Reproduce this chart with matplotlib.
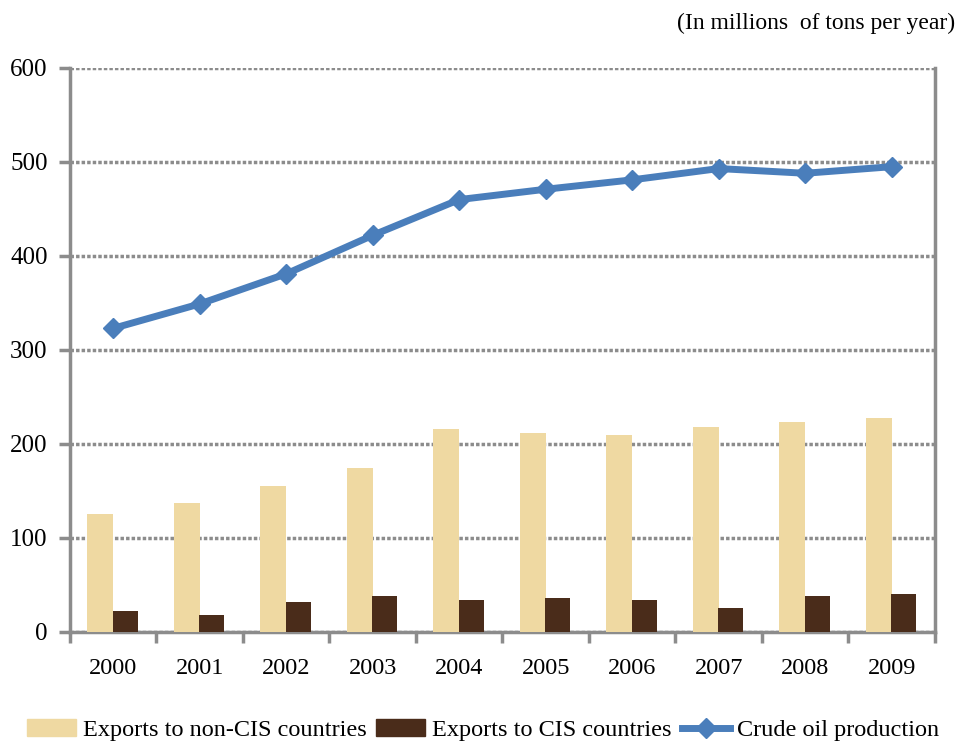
import matplotlib
matplotlib.use('Agg')
import matplotlib.pyplot as plt
from matplotlib.lines import Line2D
import matplotlib.patches as mpatches
import numpy as np

plt.rcParams['font.family'] = ['Liberation Serif', 'DejaVu Serif']

# data
years = ['2000', '2001', '2002', '2003', '2004', '2005', '2006', '2007', '2008', '2009']
non_cis = [125, 137, 155, 174, 216, 212, 210, 218, 223, 228]
cis = [22, 18, 32, 38, 34, 36, 34, 25, 38, 40]
production = [323, 349, 381, 422, 460, 471, 481, 493, 488, 495]

light = '#EFD9A2'
dark = '#4A2C1A'
blue = '#4A7EBB'
grey = '#8C8C8C'

fig = plt.figure(figsize=(9.57, 7.43), dpi=100)
ax = fig.add_axes([0.0731, 0.1494, 0.9039, 0.7591])

x = np.arange(len(years))
ax.bar(x - 0.15, non_cis, width=0.3, color=light, zorder=3)
ax.bar(x + 0.14, cis, width=0.29, color=dark, zorder=3)
ax.plot(x, production, color=blue, lw=5, marker='D', ms=10, mfc=blue, mec=blue, zorder=4)

ax.set_xlim(-0.5, len(years) - 0.5)
ax.set_ylim(0, 600)
ax.set_yticks(range(0, 601, 100))
ax.set_xticks(x)
ax.set_xticklabels(years)
ax.set_xticks(np.arange(-0.5, len(years)), minor=True)
ax.tick_params(axis='x', which='major', length=0, pad=19, labelsize=17.5)
ax.tick_params(axis='x', which='minor', length=8, width=2.5, color=grey)
ax.tick_params(axis='y', length=8, width=2.5, color=grey, labelsize=18, pad=8)

ax.grid(axis='y', color=grey, lw=2.5, ls=(0, (1, 0.6)), zorder=1)
for s in ['left', 'right', 'bottom']:
    ax.spines[s].set_color(grey)
    ax.spines[s].set_linewidth(2.5)
ax.spines['top'].set_visible(False)

fig.text(0.998, 0.968, '(In millions  of tons per year)', ha='right', va='center', fontsize=17)

handles = [mpatches.Patch(color=light, label='Exports to non-CIS countries'),
           mpatches.Patch(color=dark, label='Exports to CIS countries'),
           Line2D([], [], color=blue, lw=5, marker='D', ms=10, label='Crude oil production')]
fig.legend(handles=handles, loc='lower center', bbox_to_anchor=(0.505, -0.027), ncol=3,
           frameon=False, fontsize=17.5, handlelength=2.0, handletextpad=0.3, columnspacing=0.4)

fig.savefig('out.png', dpi=100)
